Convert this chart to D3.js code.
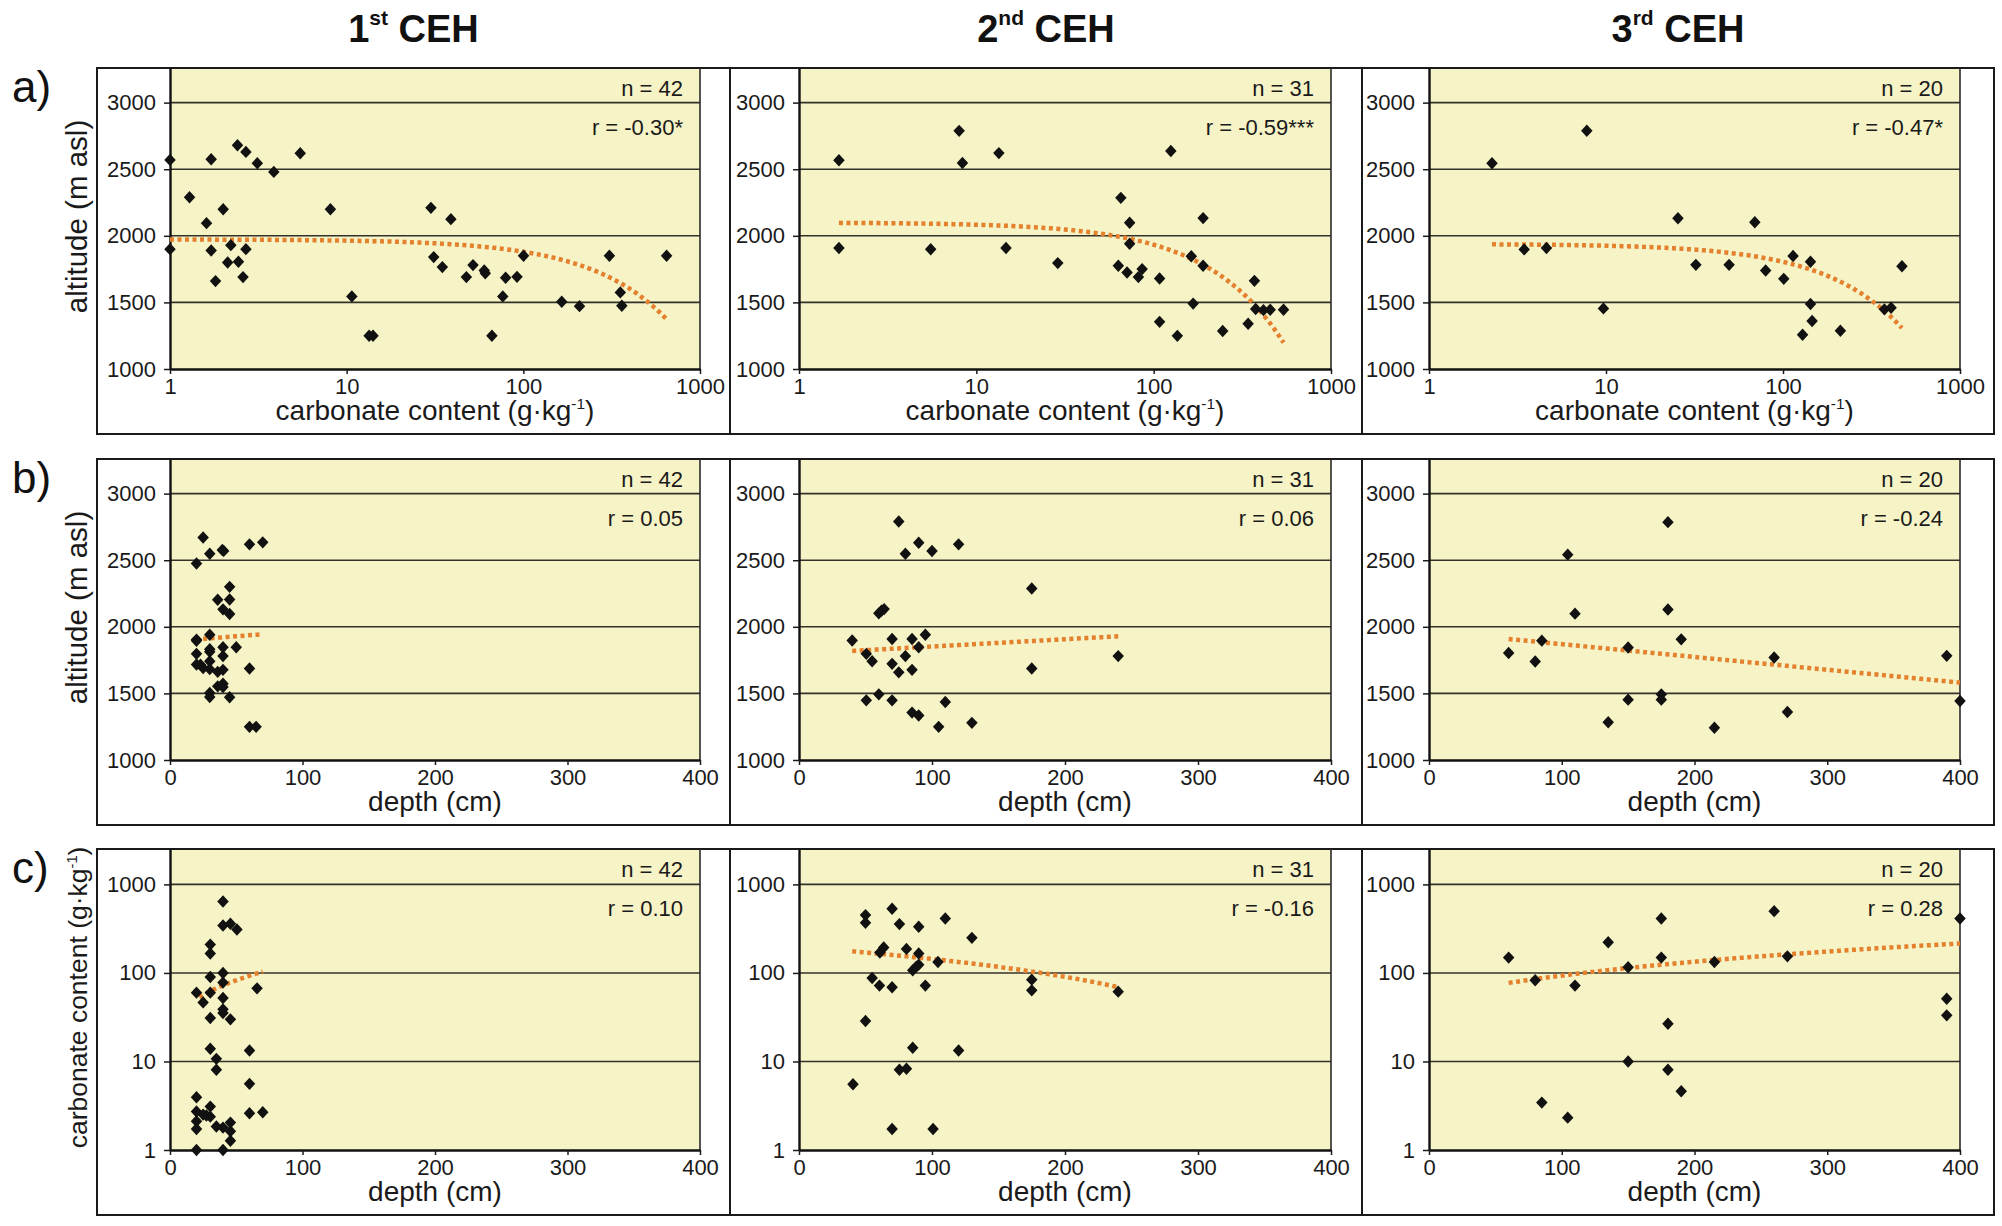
<!DOCTYPE html>
<html>
<head>
<meta charset="utf-8">
<script src="https://cdn.jsdelivr.net/npm/d3@7/dist/d3.min.js"></script>
<style>
  html, body { margin: 0; padding: 0; background: #fff; }
  svg { display: block; font-family: "Liberation Sans", Arial, Helvetica, sans-serif; }
</style>
</head>
<body>
<svg id="chart" width="2002" height="1226"></svg>
<script>
// ---- data ----
const colTitles = [["1", "st"], ["2", "nd"], ["3", "rd"]];
const rowLetters = ["a)", "b)", "c)"];
const nValues = [42, 31, 20];
const rValues = [
  ["-0.30*", "-0.59***", "-0.47*"],
  ["0.05", "0.06", "-0.24"],
  ["0.10", "-0.16", "0.28"]
];

const altTicks = [1000, 1500, 2000, 2500, 3000];
const carbTicks = [1, 10, 100, 1000];
const depthTicks = [0, 100, 200, 300, 400];

// row a: carbonate content (x) vs altitude (y)
const carbAlt1 = [[1,2570],[1,1900],[1.29,2290],[1.71,2575],[1.61,2095],[1.71,1890],[1.81,1660],[2.0,2200],
  [2.12,1800],[2.21,1930],[2.41,2680],[2.44,1805],[2.69,2630],[2.69,1900],[2.59,1690],[3.12,2545],[3.87,2480],
  [5.46,2620],[8.09,2200],[10.7,1545],[13.4,1250],[14.1,1250],[30.0,2210],[31.1,1840],[34.8,1765],[38.9,2125],
  [47.6,1690],[51.9,1780],[60.1,1740],[60.9,1718],[66.4,1250],[76.5,1545],[79.4,1685],[92.1,1692],[100.3,1850],
  [165,1505],[208,1472],[307,1850],[354,1575],[361,1475],[647,1850]];
const carbAlt2 = [[1.68,2567],[1.68,1909],[8.0,2788],[8.35,2547],[5.53,1899],[13.4,2621],[14.7,1909],[28.8,1795],
  [65.3,2285],[73.2,2098],[73.2,1940],[63.2,1775],[70.8,1725],[82.0,1690],[86.1,1750],[108,1680],[125,2637],
  [108,1354],[136,1249],[163,1847],[190,2133],[190,1775],[167,1491],[245,1285],[341,1340],[370,1662],[376,1450],
  [416,1442],[454,1445],[540,1445]];
const carbAlt3 = [[2.27,2545],[3.45,1898],[4.61,1908],[7.79,2789],[9.67,1455],[25.5,2132],[32.2,1782],[49.6,1782],
  [69.3,2102],[79.8,1740],[101,1677],[114,1848],[143,1805],[143,1488],[146,1360],[129,1257],[211,1287],[374,1448],
  [408,1460],[470,1772]];

// row b: depth (x) vs altitude (y)
const depthAlt1 = [[20,2475],[25,2671],[30,2549],[39.5,2577],[40.5,2570],[60,2619],[70,2634],[45,2300],[36,2203],
  [45,2205],[40,2131],[45,2096],[20,1904],[20,1895],[30,1941],[20,1797],[30,1832],[30,1812],[40,1847],[50,1847],
  [40,1780],[20,1717],[25,1690],[30,1742],[30,1682],[36,1662],[40,1677],[60,1687],[36,1553],[40,1573],[40,1548],
  [30,1503],[30,1473],[45,1471],[60,1249],[65,1249],[23,1715]];
const depthAlt2 = [[40,1897],[50.6,1797],[50.6,1448],[55,1742],[60,1493],[60,2101],[62,2121],[64,2133],[70,1909],
  [70,1722],[70,1448],[75,2791],[75,1658],[80,2549],[80,1780],[85,1909],[85,1677],[85,1356],[90,2631],[90,1847],
  [90,1334],[95,1941],[100,2569],[105,1249],[110,1436],[120,2619],[130,1279],[175,2288],[175,1687],[240,1780]];
const depthAlt3 = [[60,1803],[80,1740],[85,1896],[104.5,2542],[110,2099],[135,1284],[150,1845],[150,1453],
  [175,1493],[175,1453],[180,2786],[180,2130],[190,1906],[215,1242],[260,1770],[270,1360],[390,1782],[400,1443]];

// row c: depth (x) vs carbonate content (y)
const depthCarb1 = [[40,642],[40,343],[45.6,359],[50.5,310],[30.4,209],[30.4,166],[40,100],[30.4,90],[40,77.8],
  [20,59.9],[30.4,59.9],[25,46.5],[40,52.1],[65.7,67],[40,38.8],[40,35.3],[30.4,31],[45.6,29.9],[30.4,13.9],
  [60,13.3],[35,10.7],[35,8.05],[60,5.59],[20,3.95],[30.4,3.09],[20,2.72],[25,2.51],[30.4,2.38],[60,2.6],
  [70,2.67],[20,2.11],[45.6,2.04],[35,1.84],[40,1.79],[20,1.73],[45.6,1.63],[45.6,1.27],[20,1],[40,1],[27.5,2.45]];
const depthCarb2 = [[70,531],[50,450],[50,368],[75.5,356],[90,332],[110,412],[130,249],[63.7,194],[60.8,170],
  [80.8,187],[90,166],[90,124],[88,117],[85.5,107],[104.5,133],[55,87.8],[60.5,71.9],[70,68.9],[95,71.9],
  [175,84],[175,63.6],[240,61.5],[50,28.6],[85.5,14.3],[120,13.3],[75.5,8.05],[80.8,8.26],[40.6,5.53],
  [70,1.73],[100.8,1.73]];
const depthCarb3 = [[60,149],[80,82.6],[110,71.9],[135,222],[150,116],[175,149],[175,412],[215,133],[260,499],
  [270,154],[400,412],[390,51.2],[390,33.2],[180,26.7],[150,10],[180,8.05],[190,4.61],[85,3.43],[104.5,2.32]];

// linear fits (y = a + b*x) drawn between x0 and x1
const fitsA = [{a:1973,b:-0.926,x0:1,x1:650},{a:2100,b:-1.67,x0:1.68,x1:540},{a:1939,b:-1.344,x0:2.27,x1:470}];
const fitsB = [{a:1890,b:0.78,x0:25,x1:70},{a:1797,b:0.55,x0:40,x1:240},{a:1966,b:-0.962,x0:60,x1:400}];
const fitsC = [{a:30.6,b:1.04,x0:22,x1:70},{a:197,b:-0.533,x0:40,x1:240},{a:52.8,b:0.4056,x0:60,x1:400}];

// ---- layout ----
const boxX = [97, 730, 1362, 1994];
const plotX = [[170, 700], [799, 1331], [1429, 1960]];
const rowTop = [68, 459, 849];
const boxH = 366, plotH = 301;
const yellow = "#f6f3c6", orange = "#e3812f";

const rows = [
  { data: [carbAlt1, carbAlt2, carbAlt3], fits: fitsA, xlog: true, ylog: false,
    xTicks: carbTicks, yTicks: altTicks, xTitle: "carbonate", yTitle: "altitude (m asl)" },
  { data: [depthAlt1, depthAlt2, depthAlt3], fits: fitsB, xlog: false, ylog: false,
    xTicks: depthTicks, yTicks: altTicks, xTitle: "depth (cm)", yTitle: "altitude (m asl)" },
  { data: [depthCarb1, depthCarb2, depthCarb3], fits: fitsC, xlog: false, ylog: true,
    xTicks: depthTicks, yTicks: carbTicks, xTitle: "depth (cm)", yTitle: "carbonate" }
];

const svg = d3.select("#chart");
svg.append("rect").attr("width", 2002).attr("height", 1226).attr("fill", "#fff");

// column titles
colTitles.forEach(function(t, c) {
  const cx = (boxX[c] + boxX[c + 1]) / 2;
  const txt = svg.append("text")
    .attr("x", cx).attr("y", 42)
    .attr("text-anchor", "middle")
    .attr("font-weight", "bold")
    .attr("font-size", 38)
    .attr("fill", "#111");
  txt.append("tspan").text(t[0]);
  txt.append("tspan").attr("font-size", 21).attr("dy", -17).text(t[1]);
  txt.append("tspan").attr("dy", 17).text(" CEH");
});

function carbLabel(sel, size) {
  sel.append("tspan").text("carbonate content (g\u00b7kg");
  sel.append("tspan").attr("font-size", size * 0.55).attr("dy", -size * 0.38).text("-1");
  sel.append("tspan").attr("dy", size * 0.38).text(")");
}

rows.forEach(function(row, r) {
  const top = rowTop[r];

  svg.append("text")
    .attr("x", 12).attr("y", top + 34)
    .attr("font-size", 44)
    .attr("fill", "#111")
    .text(rowLetters[r]);

  for (let c = 0; c < 3; c++) {
    const g = svg.append("g");
    const x0 = plotX[c][0], x1 = plotX[c][1];

    const x = (row.xlog ? d3.scaleLog().domain([1, 1000]) : d3.scaleLinear().domain([0, 400]))
      .range([x0, x1]);
    const y = (row.ylog ? d3.scaleLog().domain([1, Math.pow(10, 3.4)]) : d3.scaleLinear().domain([1000, 3260]))
      .range([top + plotH, top]);

    // panel box and plot background
    g.append("rect")
      .attr("x", boxX[c]).attr("y", top)
      .attr("width", boxX[c + 1] - boxX[c]).attr("height", boxH)
      .attr("fill", "none").attr("stroke", "#1a1a1a").attr("stroke-width", 2);
    g.append("rect")
      .attr("x", x0).attr("y", top + 1)
      .attr("width", x1 - x0).attr("height", plotH - 1)
      .attr("fill", yellow);

    // gridlines
    g.selectAll(".grid")
      .data(row.yTicks.slice(1))
      .enter()
      .append("line")
      .attr("x1", x0).attr("x2", x1)
      .attr("y1", function(d) { return y(d); })
      .attr("y2", function(d) { return y(d); })
      .attr("stroke", "#33322a").attr("stroke-width", 1.6);

    // right edge of plot area
    g.append("line")
      .attr("x1", x1).attr("x2", x1).attr("y1", top).attr("y2", top + plotH)
      .attr("stroke", "#2a2a2a").attr("stroke-width", 1.6);

    // axes
    const yAxis = d3.axisLeft(y).tickValues(row.yTicks).tickFormat(d3.format("d"))
      .tickSize(6).tickSizeOuter(0).tickPadding(8);
    const xAxis = d3.axisBottom(x).tickValues(row.xTicks).tickFormat(d3.format("d"))
      .tickSize(5).tickSizeOuter(0).tickPadding(4);

    const ya = g.append("g").attr("transform", "translate(" + x0 + ",0)").call(yAxis);
    const xa = g.append("g").attr("transform", "translate(0," + (top + plotH) + ")").call(xAxis);
    [ya, xa].forEach(function(a) {
      a.selectAll("text").attr("font-size", 22).attr("fill", "#1a1a1a")
        .attr("font-family", "'Liberation Sans', Arial, sans-serif");
      a.selectAll("line").attr("stroke", "#1a1a1a").attr("stroke-width", 1.5);
      a.select(".domain").attr("stroke", "#111").attr("stroke-width", 2.4);
    });

    // x axis title
    const xt = g.append("text")
      .attr("x", (x0 + x1) / 2).attr("y", top + plotH + 51)
      .attr("text-anchor", "middle")
      .attr("font-size", 28).attr("fill", "#1a1a1a");
    if (row.xTitle === "carbonate") carbLabel(xt, 28); else xt.text(row.xTitle);

    // y axis title (first column only)
    if (c === 0) {
      const yc = top + plotH / 2;
      const fs = row.yTitle === "carbonate" ? 26.5 : 29.5;
      const yt = g.append("text")
        .attr("transform", "translate(87," + (yc - 2) + ") rotate(-90)")
        .attr("text-anchor", "middle")
        .attr("font-size", fs).attr("fill", "#1a1a1a");
      if (row.yTitle === "carbonate") carbLabel(yt, fs); else yt.text(row.yTitle);
    }

    // stats
    g.append("text")
      .attr("x", x1 - 17).attr("y", top + 28)
      .attr("text-anchor", "end").attr("font-size", 22).attr("fill", "#1a1a1a")
      .text("n = " + nValues[c]);
    g.append("text")
      .attr("x", x1 - 17).attr("y", top + 67)
      .attr("text-anchor", "end").attr("font-size", 22).attr("fill", "#1a1a1a")
      .text("r = " + rValues[r][c]);

    // trend line (linear fit, sampled along the screen axis)
    const f = row.fits[c];
    const px = d3.range(x(f.x0), x(f.x1), 2).concat([x(f.x1)]);
    const line = d3.line()
      .x(function(p) { return p; })
      .y(function(p) { const v = x.invert(p); return y(f.a + f.b * v); });
    g.append("path")
      .datum(px)
      .attr("d", line)
      .attr("fill", "none")
      .attr("stroke", orange)
      .attr("stroke-width", 4.5)
      .attr("stroke-dasharray", "4,3.5");

    // points
    const sym = d3.symbol().type(d3.symbolSquare).size(66);
    g.selectAll(".pt")
      .data(row.data[c])
      .enter()
      .append("path")
      .attr("d", sym)
      .attr("transform", function(d) {
        return "translate(" + x(d[0]) + "," + y(d[1]) + ") scale(1,1.08) rotate(45)";
      })
      .attr("fill", "#111");
  }
});
</script>
</body>
</html>
